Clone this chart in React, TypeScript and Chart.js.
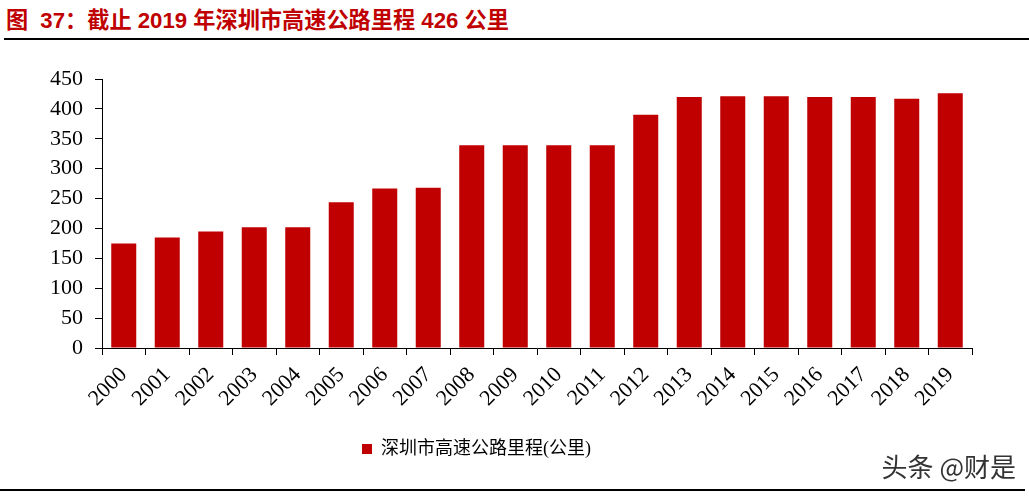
import { useEffect, useRef } from 'react';
import { Chart, registerables } from 'chart.js';

Chart.register(...registerables);

const years = [
  '2000', '2001', '2002', '2003', '2004', '2005', '2006', '2007', '2008', '2009',
  '2010', '2011', '2012', '2013', '2014', '2015', '2016', '2017', '2018', '2019',
];
const mileage = [175, 185, 195, 202, 202, 244, 267, 268, 339, 339, 339, 339, 390, 420, 421, 421, 420, 420, 417, 426];
const seriesName = '深圳市高速公路里程(公里)';
const yMin = 0;
const yMax = 450;
const yStep = 50;

const RED = '#c00000';
const SERIF = '"Liberation Serif", "Times New Roman", "Noto Sans CJK SC", serif';

export default function App() {
  const chartRef = useRef<HTMLCanvasElement>(null);
  const chartInstance = useRef<Chart | null>(null);

  useEffect(() => {
    document.body.style.margin = '0';
    if (!chartRef.current) return;
    if (chartInstance.current) chartInstance.current.destroy();
    const ctx = chartRef.current.getContext('2d');
    if (!ctx) return;

    chartInstance.current = new Chart(ctx, {
      type: 'bar',
      data: {
        labels: years,
        datasets: [
          {
            label: seriesName,
            data: mileage,
            backgroundColor: RED,
            barPercentage: 0.575,
            categoryPercentage: 1,
          },
        ],
      },
      options: {
        animation: false,
        responsive: true,
        maintainAspectRatio: false,
        layout: { padding: { top: 29, right: 57, left: 0, bottom: 12 } },
        plugins: {
          tooltip: { enabled: false },
          legend: {
            position: 'bottom',
            labels: {
              boxWidth: 10,
              boxHeight: 10,
              color: '#000',
              font: { family: SERIF, size: 18 },
              padding: 10,
            },
          },
        },
        scales: {
          x: {
            afterFit: (scale) => {
              scale.height = 82;
            },
            grid: {
              offset: true,
              drawOnChartArea: false,
              drawTicks: true,
              tickLength: 7,
              color: '#000',
            },
            border: { display: true, color: '#000', width: 1 },
            ticks: {
              color: '#000',
              font: { family: SERIF, size: 22 },
              minRotation: 45,
              maxRotation: 45,
              autoSkip: false,
              padding: 7,
            },
          },
          y: {
            min: yMin,
            max: yMax,
            afterFit: (scale) => {
              scale.width = 121;
            },
            grid: {
              drawOnChartArea: false,
              drawTicks: true,
              tickLength: 7,
              color: '#000',
            },
            border: { display: true, color: '#000', width: 1 },
            ticks: {
              stepSize: yStep,
              color: '#000',
              font: { family: SERIF, size: 22 },
              padding: 12,
            },
          },
        },
      },
    });

    return () => {
      if (chartInstance.current) {
        chartInstance.current.destroy();
        chartInstance.current = null;
      }
    };
  }, []);

  return (
    <div style={{ position: 'relative', width: 1029, height: 496, background: '#fff', overflow: 'hidden' }}>
      <div
        style={{
          position: 'absolute',
          left: 6,
          top: 2,
          fontFamily: '"Liberation Sans", Arial, "Noto Sans CJK SC", sans-serif',
          fontWeight: 'bold',
          fontSize: 22.2,
          color: RED,
          whiteSpace: 'nowrap',
        }}
      >
        <span style={{ marginRight: 6 }}>图</span> 37：截止 2019 年深圳市高速公路里程 426 公里
      </div>
      <div style={{ position: 'absolute', left: 4, right: 0, top: 38, height: 2, background: '#000' }} />
      <div style={{ position: 'absolute', left: -19, top: 50, width: 1048, height: 430 }}>
        <canvas ref={chartRef}></canvas>
      </div>
      <div
        style={{
          position: 'absolute',
          right: 13,
          top: 447,
          fontFamily: '"Noto Sans CJK SC", sans-serif',
          fontSize: 26,
          color: '#333',
          whiteSpace: 'nowrap',
          textShadow: '0 0 2px #fff',
        }}
      >
        头条 @财是
      </div>
      <div style={{ position: 'absolute', left: 0, right: 4, top: 489, height: 2, background: '#000' }} />
    </div>
  );
}
